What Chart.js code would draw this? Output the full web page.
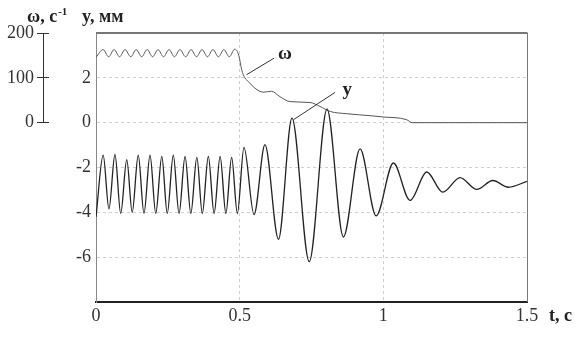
<!DOCTYPE html>
<html>
<head>
<meta charset="utf-8">
<script src="https://cdn.jsdelivr.net/npm/chart.js@4.4.1/dist/chart.umd.min.js"></script>
<style>
  html, body { margin: 0; padding: 0; background: #fff; }
  #wrap { width: 581px; height: 337px; }
</style>
</head>
<body>
<div id="wrap"><canvas id="chart" width="581" height="337"></canvas></div>
<script>
  // displacement y, mm (extrema)
  var yTime = [0.000, 0.025, 0.045, 0.066, 0.086, 0.107, 0.126, 0.147, 0.167, 0.188,
               0.208, 0.229, 0.248, 0.269, 0.289, 0.310, 0.330, 0.351, 0.370, 0.391,
               0.411, 0.432, 0.452, 0.472, 0.492, 0.515, 0.550, 0.588, 0.635, 0.682,
               0.742, 0.804, 0.861, 0.919, 0.975, 1.035, 1.093, 1.151, 1.207, 1.267,
               1.325, 1.381, 1.435, 1.500];
  var yValue = [-4.2, -1.45, -3.85, -1.42, -4.05, -1.65, -4.0, -1.45, -4.05, -1.45,
                -4.05, -1.5, -4.05, -1.45, -4.05, -1.5, -4.05, -1.55, -4.05, -1.5,
                -4.05, -1.5, -4.05, -1.55, -4.05, -1.1, -4.1, -0.98, -5.2, 0.2,
                -6.2, 0.6, -5.1, -1.17, -4.16, -1.8, -3.47, -2.2, -3.1, -2.45,
                -2.98, -2.58, -2.88, -2.62];

  // angular speed omega, 1/s
  var wTime = [0.000, 0.025, 0.044, 0.063, 0.082, 0.101, 0.121, 0.140, 0.159, 0.178,
               0.197, 0.216, 0.235, 0.254, 0.273, 0.292, 0.312, 0.331, 0.350, 0.369,
               0.388, 0.407, 0.426, 0.445, 0.464, 0.483, 0.497, 0.507, 0.518, 0.530,
               0.553, 0.582, 0.611, 0.640, 0.675, 0.745, 0.780, 0.815, 0.872, 0.954,
               1.000, 1.081, 1.100, 1.500];
  var wValue = [146, 163, 147, 163, 147, 163, 147, 163, 147, 163,
                147, 163, 147, 163, 147, 163, 147, 163, 147, 163,
                147, 163, 147, 163, 147, 164, 150, 118, 100, 92,
                77, 68, 70, 58, 47, 45, 36, 25, 20, 15.6,
                12.7, 6.7, 0, 0];

  var xTicks = [0, 0.5, 1, 1.5];
  var yTicks = [-6, -4, -2, 0, 2];
  var wTicks = [0, 100, 200];

  // curve labels with leader lines, in data units
  var curveLabels = [
    {text: 'ω', axis: 'w', from: [0.524, 107], to: [0.620, 144], at: [0.658, 153]},
    {text: 'y', axis: 'y', from: [0.687, 0.13], to: [0.832, 1.35], at: [0.874, 1.47]}
  ];

  var serif = "'Liberation Serif', 'DejaVu Serif', serif";
  Chart.defaults.font.family = serif;
  Chart.defaults.font.size = 18;
  Chart.defaults.color = '#333';

  function toPoints(xs, ys) {
    return xs.map(function (x, i) { return {x: x, y: ys[i]}; });
  }

  function fixedTicks(list) {
    return function (scale) {
      scale.ticks = list.map(function (v) { return {value: v}; });
    };
  }

  function plainLabel(v) {
    return String(v);
  }

  var decorations = {
    id: 'decorations',
    afterDraw: function (chart) {
      var ctx = chart.ctx;
      var a = chart.chartArea;
      var xs = chart.scales.x, w = chart.scales.w;
      ctx.save();

      // top and right sides of the frame
      ctx.strokeStyle = '#777';
      ctx.lineWidth = 2;
      ctx.beginPath();
      ctx.moveTo(a.left, a.top);
      ctx.lineTo(a.right + 0.5, a.top);
      ctx.stroke();
      ctx.lineWidth = 1;
      ctx.beginPath();
      ctx.moveTo(a.right + 0.5, a.top);
      ctx.lineTo(a.right + 0.5, a.bottom);
      ctx.stroke();

      // omega axis line, only over 0..200
      var wx = Math.round(w.right - 6) + 0.5;
      ctx.strokeStyle = '#333';
      ctx.beginPath();
      ctx.moveTo(wx, w.getPixelForValue(wTicks[wTicks.length - 1]));
      ctx.lineTo(wx, w.getPixelForValue(wTicks[0]));
      ctx.stroke();

      // axis titles
      ctx.fillStyle = '#222';
      ctx.textBaseline = 'alphabetic';
      ctx.font = 'bold 18px ' + serif;
      ctx.fillText('ω, c', 27, 22);
      var tw = ctx.measureText('ω, c').width;
      ctx.font = 'bold 11px ' + serif;
      ctx.fillText('-1', 27 + tw + 1, 15);
      ctx.font = 'bold 18px ' + serif;
      ctx.fillText('y, мм', 82, 22);
      ctx.textBaseline = 'middle';
      ctx.fillText('t, c', xs.right + 22, xs.top + 14);

      // curve labels
      curveLabels.forEach(function (c) {
        var s = chart.scales[c.axis];
        ctx.strokeStyle = '#333';
        ctx.lineWidth = 1;
        ctx.beginPath();
        ctx.moveTo(xs.getPixelForValue(c.from[0]), s.getPixelForValue(c.from[1]));
        ctx.lineTo(xs.getPixelForValue(c.to[0]), s.getPixelForValue(c.to[1]));
        ctx.stroke();
        ctx.textAlign = 'center';
        ctx.textBaseline = 'middle';
        ctx.font = 'bold 19px ' + serif;
        ctx.fillText(c.text, xs.getPixelForValue(c.at[0]), s.getPixelForValue(c.at[1]));
      });
      ctx.restore();
    }
  };

  var ctx = document.getElementById('chart').getContext('2d');
  var chart = new Chart(ctx, {
    type: 'line',
    data: {
      datasets: [
        {
          label: 'y',
          data: toPoints(yTime, yValue),
          yAxisID: 'y',
          borderColor: '#222',
          borderWidth: 1.3,
          pointRadius: 0,
          cubicInterpolationMode: 'monotone'
        },
        {
          label: 'ω',
          data: toPoints(wTime, wValue),
          yAxisID: 'w',
          borderColor: '#555',
          borderWidth: 1,
          pointRadius: 0,
          cubicInterpolationMode: 'monotone'
        }
      ]
    },
    options: {
      responsive: false,
      animation: false,
      events: [],
      layout: {padding: {top: 33, right: 54, left: 0, bottom: 0}},
      plugins: {legend: {display: false}, tooltip: {enabled: false}},
      scales: {
        x: {
          type: 'linear',
          min: 0,
          max: 1.5,
          afterBuildTicks: fixedTicks(xTicks),
          afterFit: function (s) { s.height = 35; },
          ticks: {padding: 3, maxRotation: 0, color: '#333', callback: plainLabel},
          grid: {
            drawTicks: false,
            color: function (c) {
              return (c.tick && (c.tick.value === 0 || c.tick.value === 1.5)) ? 'rgba(0,0,0,0)' : '#cfcfcf';
            }
          },
          border: {color: '#222', width: 2, dash: [3, 3]}
        },
        y: {
          position: 'left',
          weight: 0,
          min: -8,
          max: 4,
          afterBuildTicks: fixedTicks(yTicks),
          afterFit: function (s) { s.width = 47; },
          ticks: {padding: 5, color: '#333', callback: plainLabel},
          grid: {drawTicks: false, color: '#cfcfcf'},
          border: {color: '#888', width: 1, dash: [3, 3]}
        },
        w: {
          position: 'left',
          weight: 1,
          min: -400,
          max: 200,
          afterBuildTicks: fixedTicks(wTicks),
          afterFit: function (s) { s.width = 49; },
          ticks: {padding: 3, color: '#333', callback: plainLabel},
          grid: {drawOnChartArea: false, drawTicks: true, tickLength: 12, color: '#333'},
          border: {display: false}
        }
      }
    },
    plugins: [decorations]
  });
</script>
</body>
</html>
